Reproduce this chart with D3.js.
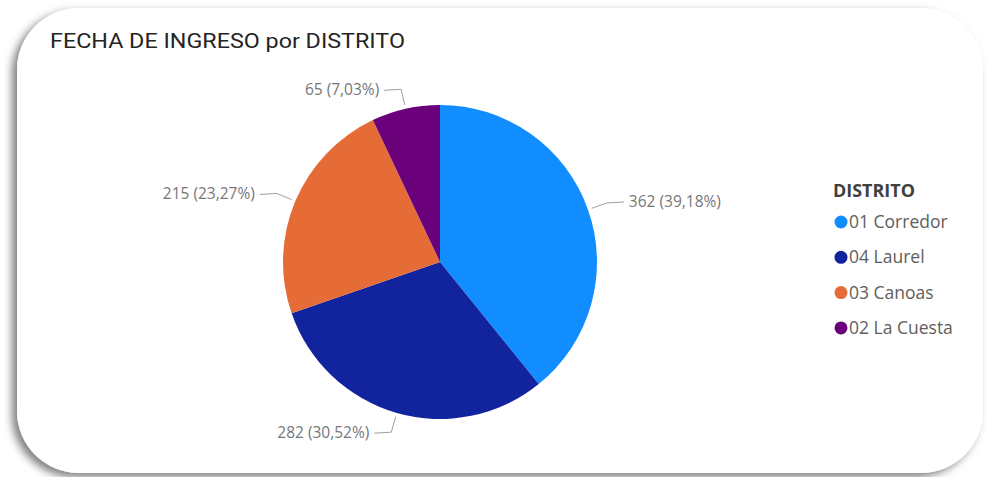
<!DOCTYPE html>
<html><head><meta charset="utf-8">
<script src="https://cdn.jsdelivr.net/npm/d3@7"></script>
<style>
html,body{margin:0;padding:0;background:#fff;}
svg{display:block;}
</style></head>
<body>
<svg id="chart" width="987" height="477"></svg>
<script>
const categories = ["01 Corredor", "04 Laurel", "03 Canoas", "02 La Cuesta"];
const values = [362, 282, 215, 65];
const percentLabels = ["39,18%", "30,52%", "23,27%", "7,03%"];
const colors = ["#118DFF", "#12239E", "#E66C37", "#6B007B"];
const title = "FECHA DE INGRESO por DISTRITO";
const legendTitle = "DISTRITO";

const svg = d3.select("#chart");

// card with shadow
const defs = svg.append("defs");
const f = defs.append("filter").attr("id","sh").attr("x","-10%").attr("y","-10%").attr("width","120%").attr("height","125%");
f.append("feDropShadow").attr("dx",-5).attr("dy",4).attr("stdDeviation",4).attr("flood-color","#000").attr("flood-opacity",0.5);
svg.append("rect").attr("x",17).attr("y",8).attr("width",966).attr("height",465)
  .attr("rx",62).attr("ry",62).attr("fill","#fff").attr("filter","url(#sh)");

// title
svg.append("text").attr("x",50).attr("y",48).text(title)
  .attr("font-family","Roboto, 'DejaVu Sans Condensed', sans-serif").attr("font-size",19.5)
  .attr("fill","#252423").attr("textLength",355).attr("lengthAdjust","spacingAndGlyphs");

// pie
const cx = 440, cy = 262, R = 157;
const data = categories.map((c,i)=>({cat:c, value:values[i], pct:percentLabels[i], color:colors[i]}));
const pie = d3.pie().value(d=>d.value).sort(null);
const arcs = pie(data);
const arc = d3.arc().innerRadius(0).outerRadius(R);
const g = svg.append("g").attr("transform",`translate(${cx},${cy})`);
g.selectAll("path").data(arcs).join("path").attr("d",arc).attr("fill",d=>d.data.color);

// labels
const inner = d3.arc().innerRadius(R+4).outerRadius(R+4);
const elbow = d3.arc().innerRadius(R+20).outerRadius(R+20);
arcs.forEach(a=>{
  const mid = (a.startAngle+a.endAngle)/2;
  const p1 = inner.centroid(a), p2 = elbow.centroid(a);
  const right = Math.sin(mid) > 0;
  const p3 = [p2[0] + (right?17:-17), p2[1] + (right? -1 : 1)];
  g.append("polyline").attr("points",[p1,p2,p3].map(p=>p.join(",")).join(" "))
    .attr("fill","none").attr("stroke","#a0a0a0").attr("stroke-width",1);
  g.append("text").attr("x",p3[0] + (right?5:-5)).attr("y",p3[1]+5)
    .attr("text-anchor",right?"start":"end")
    .attr("font-family","'Open Sans', 'Noto Sans', sans-serif").attr("font-size",15.5)
    .attr("fill","#777")
    .text(`${a.data.value} (${a.data.pct})`);
});

// legend
const lg = svg.append("g");
lg.append("text").attr("x",833).attr("y",197).text(legendTitle)
  .attr("font-family","'Open Sans', sans-serif").attr("font-weight",700).attr("font-size",17).attr("fill","#404040")
  .attr("textLength",82).attr("lengthAdjust","spacingAndGlyphs");
data.forEach((d,i)=>{
  const y = 222 + i*35.3;
  lg.append("circle").attr("cx",841).attr("cy",y).attr("r",6.5).attr("fill",d.color);
  lg.append("text").attr("x",849).attr("y",y+6).text(d.cat)
    .attr("font-family","'Open Sans', sans-serif").attr("font-size",17.5).attr("fill","#605E5C");
});
</script>
</body></html>
